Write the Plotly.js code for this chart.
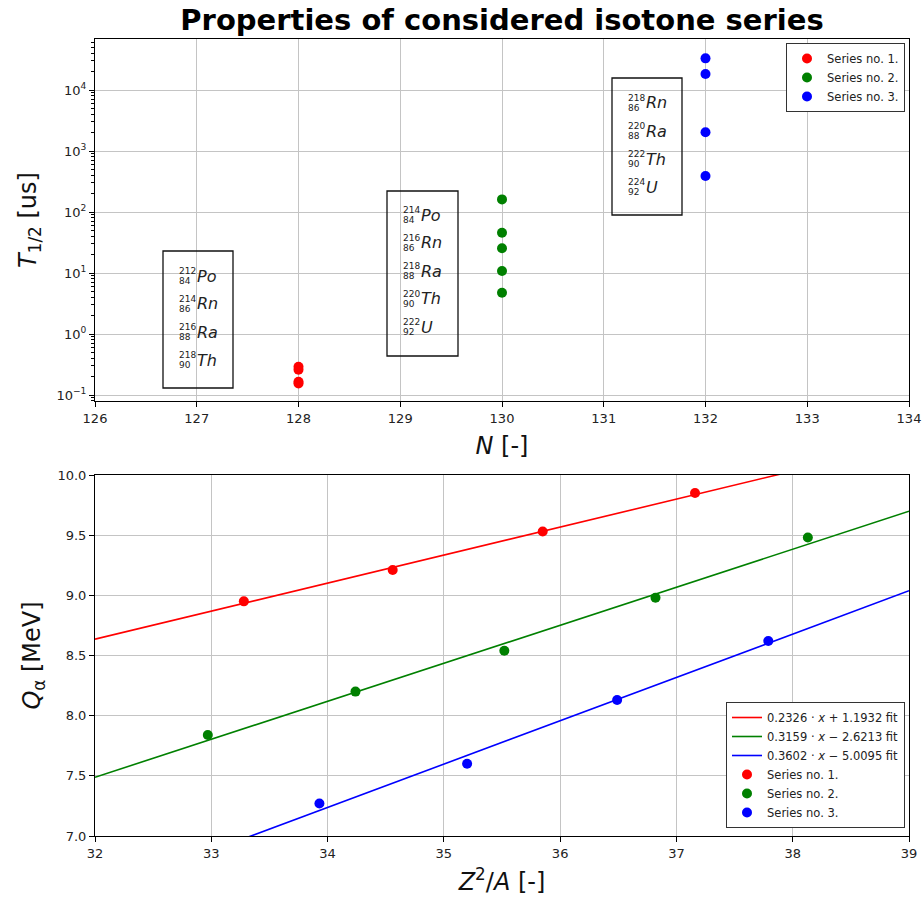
<!DOCTYPE html>
<html><head><meta charset="utf-8">
<script src="https://cdn.plot.ly/plotly-3.0.1.min.js"></script>
<style>html,body{margin:0;padding:0;background:#fff;} #chart{width:924px;height:897px;}</style>
</head><body><div id="chart"></div>
<script>
// ---------- Top panel: half-lives T1/2 [us] vs neutron number N ----------
const s1N = [128, 128, 128, 128];
const s1T = [0.29, 0.26, 0.165, 0.155];
const s2N = [130, 130, 130, 130, 130];
const s2T = [161, 45.8, 25.4, 10.8, 4.75];
const s3N = [132, 132, 132, 132];
const s3T = [33000, 18300, 2030, 390];

// nuclide labels in the three boxes
const box1Mass = [212, 214, 216, 218];
const box1Z = [84, 86, 88, 90];
const box1Sym = ['Po', 'Rn', 'Ra', 'Th'];
const box2Mass = [214, 216, 218, 220, 222];
const box2Z = [84, 86, 88, 90, 92];
const box2Sym = ['Po', 'Rn', 'Ra', 'Th', 'U'];
const box3Mass = [218, 220, 222, 224];
const box3Z = [86, 88, 90, 92];
const box3Sym = ['Rn', 'Ra', 'Th', 'U'];

// ---------- Bottom panel: Q_alpha [MeV] vs Z^2/A ----------
const b1X = [33.28, 34.56, 35.85, 37.16];
const b1Q = [8.95, 9.21, 9.53, 9.85];
const b2X = [32.97, 34.24, 35.52, 36.82, 38.13];
const b2Q = [7.84, 8.20, 8.54, 8.98, 9.48];
const b3X = [33.93, 35.20, 36.49, 37.79];
const b3Q = [7.27, 7.60, 8.13, 8.62];
const fitX = [32, 39];
const fit1Y = [8.636, 10.265];
const fit2Y = [7.488, 9.699];
const fit3Y = [6.517, 9.038];
const fitNames = ['0.2326 · <i>x</i> + 1.1932 fit', '0.3159 · <i>x</i> − 2.6213 fit', '0.3602 · <i>x</i> − 5.0095 fit'];
const seriesNames = ['Series no. 1.', 'Series no. 2.', 'Series no. 3.'];
const yTickVals = [0.1, 1, 10, 100, 1000, 10000];
const yTickText = ['10<sup>−1</sup>', '10<sup>0</sup>', '10<sup>1</sup>', '10<sup>2</sup>', '10<sup>3</sup>', '10<sup>4</sup>'];

const colors = ['red', 'green', 'blue'];
const FONT = 'DejaVu Sans';

// pixel helpers (plot area: x 95..909, y 39..836)
const L = 95, R = 909, T = 39, B = 836;
const px = x => (x - L) / (R - L);
const py = y => (B - y) / (B - T);

const traces = [];
[[s1N, s1T], [s2N, s2T], [s3N, s3T]].forEach((d, i) => {
  traces.push({x: d[0], y: d[1], type: 'scatter', mode: 'markers', name: seriesNames[i],
    marker: {color: colors[i], size: 10}, xaxis: 'x', yaxis: 'y', legend: 'legend'});
});
[fit1Y, fit2Y, fit3Y].forEach((fy, i) => {
  traces.push({x: fitX, y: fy, type: 'scatter', mode: 'lines', name: fitNames[i],
    line: {color: colors[i], width: 1.6}, xaxis: 'x2', yaxis: 'y2', legend: 'legend2'});
});
[[b1X, b1Q], [b2X, b2Q], [b3X, b3Q]].forEach((d, i) => {
  traces.push({x: d[0], y: d[1], type: 'scatter', mode: 'markers', name: seriesNames[i],
    marker: {color: colors[i], size: 10}, xaxis: 'x2', yaxis: 'y2', legend: 'legend2'});
});

// boxes and nuclide labels
const boxes = [
  {x0: 163, x1: 233, y0: 251, y1: 388, tx: 178, ry: 276, m: box1Mass, z: box1Z, s: box1Sym},
  {x0: 387, x1: 458, y0: 191, y1: 356, tx: 402, ry: 215, m: box2Mass, z: box2Z, s: box2Sym},
  {x0: 612, x1: 682, y0: 78, y1: 215, tx: 627, ry: 103, m: box3Mass, z: box3Z, s: box3Sym}
];
const shapes = [], annotations = [];
boxes.forEach(b => {
  shapes.push({type: 'rect', xref: 'paper', yref: 'paper', x0: px(b.x0), x1: px(b.x1),
    y0: py(b.y1), y1: py(b.y0), line: {color: '#111', width: 1.3}, fillcolor: 'rgba(0,0,0,0)'});
  b.s.forEach((sym, k) => {
    const yc = b.ry + 28 * k;
    annotations.push({xref: 'paper', yref: 'paper', x: px(b.tx), y: py(yc - 5), xanchor: 'left', yanchor: 'middle',
      text: String(b.m[k]), showarrow: false, borderpad: 0, font: {family: FONT, size: 9, color: '#222'}});
    annotations.push({xref: 'paper', yref: 'paper', x: px(b.tx), y: py(yc + 5), xanchor: 'left', yanchor: 'middle',
      text: String(b.z[k]), showarrow: false, borderpad: 0, font: {family: FONT, size: 9, color: '#222'}});
    annotations.push({xref: 'paper', yref: 'paper', x: px(b.tx + 18), y: py(yc), xanchor: 'left', yanchor: 'middle',
      text: '<i>' + sym + '</i>', showarrow: false, borderpad: 0, font: {family: FONT, size: 16, color: '#222'}});
  });
});

const minorVals = [];
for (let d = -2; d <= 4; d++) for (let k = 2; k <= 9; k++) minorVals.push(k * Math.pow(10, d));

const axBase = {showline: true, linecolor: '#000', linewidth: 1, mirror: true, ticks: 'outside', ticklen: 5,
  tickcolor: '#000', showgrid: true, gridcolor: '#c4c4c4', gridwidth: 1, zeroline: false,
  tickfont: {family: FONT, size: 13, color: '#222'}, automargin: false};

const layout = {
  width: 924, height: 897, paper_bgcolor: '#fff', plot_bgcolor: '#fff',
  margin: {l: L, r: 924 - R, t: T, b: 897 - B},
  font: {family: FONT, color: '#000'},
  title: {text: '<b>Properties of considered isotone series</b>', font: {family: FONT, size: 29, color: '#000'},
    xref: 'paper', x: 0.5, xanchor: 'center', yref: 'container', y: 1 - 20 / 897, yanchor: 'middle'},
  xaxis: Object.assign({}, axBase, {anchor: 'y', range: [126, 134], dtick: 1,
    title: {text: '<i>N</i> [-]', font: {family: FONT, size: 24, color: '#111'}, standoff: 12}}),
  yaxis: Object.assign({}, axBase, {anchor: 'x', domain: [py(401), 1], type: 'log', range: [-1.098, 4.836],
    tickmode: 'array', tickvals: yTickVals, ticktext: yTickText,
    minor: {tickmode: 'array', tickvals: minorVals, ticks: 'outside', ticklen: 3, tickcolor: '#000', showgrid: false},
    title: {text: '<i>T</i><sub>1/2</sub> [us]', font: {family: FONT, size: 24, color: '#111'}, standoff: 13}}),
  xaxis2: Object.assign({}, axBase, {anchor: 'y2', range: [32, 39], dtick: 1,
    title: {text: '<i>Z</i><sup>2</sup>/<i>A</i> [-]', font: {family: FONT, size: 24, color: '#111'}, standoff: 13}}),
  yaxis2: Object.assign({}, axBase, {anchor: 'x2', domain: [0, py(475)], range: [7, 10], dtick: 0.5, tickformat: '.1f',
    title: {text: '<i>Q</i><sub>α</sub> [MeV]', font: {family: FONT, size: 24, color: '#111'}, standoff: 10}}),
  legend: {x: px(905), xanchor: 'right', y: py(43), yanchor: 'top', bgcolor: '#fff', bordercolor: '#333', borderwidth: 1,
    font: {family: FONT, size: 11.5, color: '#222'}, itemwidth: 30, tracegroupgap: 0},
  legend2: {x: px(905), xanchor: 'right', y: py(702), yanchor: 'top', bgcolor: '#fff', bordercolor: '#333', borderwidth: 1,
    font: {family: FONT, size: 11.5, color: '#222'}, itemwidth: 30, tracegroupgap: 0},
  shapes: shapes, annotations: annotations, showlegend: true
};

Plotly.newPlot('chart', traces, layout, {displayModeBar: false, staticPlot: true});
</script>
</body></html>
